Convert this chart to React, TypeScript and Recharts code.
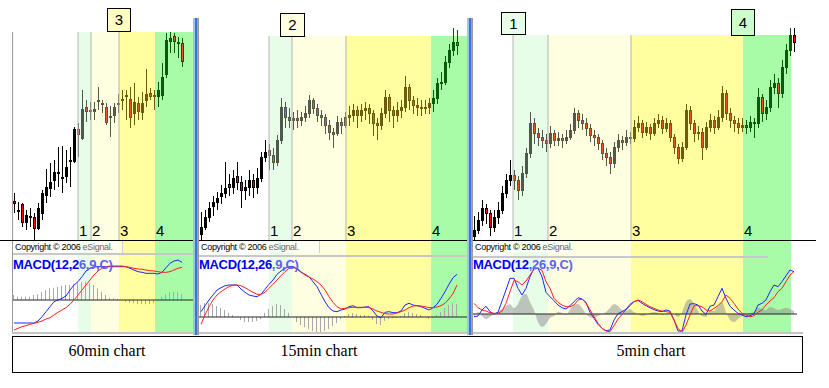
import React from 'react';
import { ComposedChart, Bar, Line, Area, XAxis, YAxis, ReferenceArea, ReferenceLine } from 'recharts';

type OHLC = [number, number, number, number];

// ---------- price candles [open, high, low, close] ----------
const candles60: OHLC[] = [
  [39,47,27,37],[29,38,20,30],[36,37,13,18],[18,30,10,25],[23,32,13,24],[23,27,0,12],[12,37,10,32],[27,50,20,47],
  [45,71,37,53],[52,77,43,58],[60,80,50,68],[67,93,53,68],[62,94,47,63],[64,90,57,73],[79,93,53,80],[79,113,77,111],
  [111,117,83,106],[102,150,100,131],[133,140,118,129],[129,138,120,130],[129,138,120,131],[139,153,130,140],[136,140,127,137],[133,137,115,118],
  [123,134,103,124],[125,137,117,133],[136,146,127,137],[140,150,130,141],[144,150,120,145],[141,153,112,123],[127,157,115,138],[137,143,120,129],
  [128,148,120,137],[140,171,133,146],[147,152,140,144],[144,150,130,145],[144,158,133,150],[145,177,140,163],[166,207,162,200],[199,208,187,202],
  [204,207,187,199],[198,203,182,197],[197,202,173,179],
];

const candles15: OHLC[] = [
  [6,28,0,13],[13,30,10,23],[23,38,18,32],[34,44,24,38],[38,48,30,42],[44,55,36,47],[47,78,42,52],[56,66,44,53],
  [53,70,46,62],[64,78,50,58],[58,64,32,50],[50,60,40,53],[53,70,44,60],[60,66,42,53],[53,72,46,62],[62,88,58,83],
  [83,100,78,88],[90,96,70,85],[85,92,70,78],[78,105,74,100],[100,142,96,133],[133,138,112,123],[123,132,112,120],[120,128,110,122],
  [122,130,112,120],[120,128,114,123],[123,134,118,127],[127,145,122,140],[140,142,126,132],[132,136,118,125],[125,130,114,123],[123,126,106,115],
  [115,120,100,108],[108,112,92,106],[107,124,104,118],[118,122,106,115],[115,128,112,123],[123,134,114,125],[125,136,118,130],[130,134,112,125],
  [125,136,118,130],[130,138,120,132],[132,136,116,127],[127,130,104,117],[117,122,100,115],[115,132,110,127],[127,150,122,143],[143,146,118,130],
  [130,134,112,125],[125,138,118,130],[130,140,122,133],[133,164,128,153],[153,156,130,140],[140,144,126,135],[135,142,124,133],[133,140,124,132],
  [132,140,126,133],[133,142,126,137],[137,150,128,142],[142,162,136,157],[157,168,150,158],[158,184,155,178],[178,196,172,190],[190,212,184,198],
  [198,210,185,195],
];

const candles5: OHLC[] = [
  [4,24,0,10],[10,28,6,20],[20,40,14,32],[32,36,16,27],[27,30,4,13],[13,30,8,23],[23,38,16,30],[30,54,26,47],
  [47,66,42,60],[60,80,54,65],[65,70,50,60],[60,64,40,50],[50,74,44,67],[67,92,62,87],[87,128,82,117],[117,122,96,107],
  [107,112,94,103],[103,110,92,100],[100,106,88,97],[97,114,92,107],[107,110,94,100],[100,108,94,102],[102,106,92,100],[100,110,96,103],
  [103,116,100,110],[110,132,106,127],[127,130,112,120],[120,126,110,117],[117,122,104,112],[112,116,98,105],[105,110,94,103],[103,106,90,97],
  [97,100,80,87],[87,92,74,83],[83,88,66,77],[77,98,72,93],[93,106,88,100],[100,104,90,98],[98,110,94,103],[103,108,96,102],
  [102,120,98,113],[113,124,108,117],[117,120,102,108],[108,118,104,113],[113,116,100,107],[107,122,104,117],[117,126,112,120],[120,124,106,112],
  [112,122,108,117],[117,120,98,103],[103,106,86,93],[93,96,76,82],[82,98,78,93],[93,136,90,130],[130,134,110,117],[117,120,98,107],
  [107,114,100,108],[108,112,80,93],[93,118,90,113],[113,126,108,120],[120,124,106,113],[113,130,110,123],[123,154,118,147],[147,150,120,127],
  [127,132,112,120],[120,124,108,117],[117,122,106,113],[113,122,108,115],[115,120,106,113],[113,124,108,118],[118,122,102,117],[117,152,112,143],
  [143,146,118,127],[127,140,120,133],[133,160,128,153],[153,166,146,157],[157,162,132,147],[147,180,142,173],[173,196,166,190],[190,212,184,205],
  [205,212,188,198],
];

// ---------- MACD(12,26,9) : macd line, signal line, histogram ----------
const macd60 = [-23,-23,-23,-23,-23,-23,-21,-16.7,-11.7,-6.7,-1.7,0,1.7,4,10,15,18.3,23.3,29,31.7,33.3,33.3,33.3,33.3,33.3,33.3,33.3,33.3,33.3,31.7,30,28.3,27.7,26.7,26.7,26.7,26,27.7,32.3,36.7,39,40,37.7];
const signal60 = [-30,-28.3,-26.7,-25.7,-24.3,-23.3,-22.3,-21,-19,-17.7,-15,-12.3,-10,-7.7,-4.3,0,5,10,15,20,25,29,31.7,33.3,34,34,34,34,33.3,32.7,31.7,31,30.7,30,29.3,29,28.3,27.7,27.7,28.3,30,31.7,32.7];
const hist60 = [5,3.3,3.3,3.3,3.3,5,5.7,8.3,10,11.7,12.3,13.3,14.3,15,15,15.7,16.7,17.7,18.3,16.7,15,11.7,8.3,5,2.3,1.7,1,0,-1.7,-2.7,-3.3,-4,-4.3,-4.3,-4,-3.3,-0.7,3.3,5.7,7.7,8.3,7.7,5.7];

const macd15 = [5.3,11.3,17,22,27,29.3,31.3,32,32,32,28,24.7,22,21,20.3,22.7,27.7,32.7,37,42.7,46,48.7,50.3,50.3,48,44.7,42.7,40.3,35.3,30.3,22.7,15.3,9.3,6,5.3,7,8,10.3,11.3,9.3,9.3,10,10.3,6,1,-0.7,4.7,5.3,4.3,4.3,6,12,13.7,12,11.3,10.3,8.7,7,9.3,12.7,18.7,25.3,32.7,39.3,42.7];
const signal15 = [-7.3,2,10.3,17,22,25.3,28,30.3,32,32,31.3,29.3,27,24.7,22.7,22.7,24.7,28.7,32.7,37,41.3,45.3,48.7,49.3,48.7,45.3,42,40,38,35.3,32,27,20.3,14.7,10.3,8,8.7,9.3,9.7,9.7,9.7,9.7,9.3,8,6,4.7,3.3,3,3,4,5.3,7,9.3,11,11.3,11,10.3,9.3,9.3,10,11.3,13.7,18,23.3,32];
const hist15 = [12,14,14,13,11,9,7,4,2,0,-3,-5,-5,-5,-4,-2,4,8,11,13,12,8,4,0,-5,-8,-10,-12,-14,-15,-15,-14,-12,-9,-6,-2,1,3,4,3,2,2,1,-3,-7,-8,-4,-2,-1,-1,1,4,5,4,3,2,0,-2,-1,2,5,9,12,14,13];

const macd5 = [-2.7,-2,4,7.7,2.3,0,1.7,13,24,35.7,35.7,25.7,19,25.7,37.3,45.7,45.7,37.3,21.7,17.3,13.3,9,6.3,5,8.3,12.3,16.3,15,11.7,1.7,-4.3,-10.3,-14.3,-16.7,-16,-6,0.3,2.3,4.7,9.7,12.3,13.7,10.7,8.3,6.3,4.3,3,2.3,4,3,-6,-17,-17,-1,10,10.3,9,3,-0.3,7.7,9,17.3,25.7,15.7,7.7,4,0.7,-1,-2.7,-1.7,0.3,9,10.7,14,22.3,29,27.3,32.3,38.3,44,42.3];
const signal5 = [10.7,6.3,4,3,1.3,0.7,0.7,3,10.7,22.3,33.7,32.3,29,33,39,45,45.7,43.7,32.3,25.7,15.7,11.7,9,7.3,7.3,9,14,15,10.7,4.3,-2.7,-9.3,-14.3,-17,-17.7,-11.7,-5,-0.3,4,8.3,12.3,14,12.3,9.7,7.3,5.7,4,3,2.3,1.7,-6,-14.3,-18.8,-11,-1,8.3,8.3,7.3,4,3,5.7,8.3,12.3,19,15.7,10.7,5,0.7,-1,-2.7,-1.7,1.7,4,9,13,16.3,22.3,25.7,32.3,39,42.3];
const hist5 = [-3,2,-2,-5,-3,0,2,5,8,10,6,10,18,20,12,4,-8,-13,-10,-4,-2,2,1,-1,4,9,10,6,0,-3,-4,-2,0,2,6,10,8,4,3,5,2,0,-2,-1,1,2,1,-1,0,1,0,-3,2,12,15,10,3,-2,-3,4,3,8,12,2,-6,-8,-5,-2,-1,1,2,6,5,4,7,6,4,5,6,5,3];

// ---------- phase zones (candle-index boundaries) and labels ----------
const zones60 = [16, 19.25, 26.25, 35.25, 44.75];
const zones15 = [17, 22.75, 36.25, 57.5, 66.5];
const zones5 = [9.75, 18.5, 39.25, 67.25, 79.25];
const zoneLabels = ['1', '2', '3', '4'];
const chartTitles = ['60min chart', '15min chart', '5min chart'];
const macdTitle = 'MACD(12,26,9,C)';
const copyrightText = 'Copyright \u00a9 2006 ';
const copyrightBrand = 'eSignal.';

// ---------- styles ----------
const zoneFills = ['#e8fde8', '#fefee0', '#ffffa0', '#a8fca8'];
const candleInk = ['#000000', '#4e594e', '#58584a', '#6b5d0e', '#0b5a0b', '#000000'];
const SANS = 'Arial, "Liberation Sans", sans-serif';
const SERIF = '"Times New Roman", "Liberation Serif", serif';

const PRICE_TOP = 18;
const PRICE_H = 222;
const MACD_TOP = 240;
const MACD_H = 93;

const panels = [
  { left: 12, width: 181, xDomain: [-0.5, 44.75], zoneTop: 208, macdDomain: [-33, 60], zeroEnd: 44.75,
    candles: candles60, zones: zones60, macd: macd60, signal: signal60, hist: hist60, areaHist: false,
    title: chartTitles[0], titleX: 107, split: 9, copyW: 107, copyLineTop: 253, copyLineW: 181, lineLeft: true },
  { left: 198, width: 269, xDomain: [-0.75, 66.5], zoneTop: 204, macdDomain: [-16, 77], zeroEnd: 66.5,
    candles: candles15, zones: zones15, macd: macd15, signal: signal15, hist: hist15, areaHist: false,
    title: chartTitles[1], titleX: 319, split: 10, copyW: 118, copyLineTop: 255, copyLineW: 269, lineLeft: true },
  { left: 472, width: 331, xDomain: [-0.5, 82.25], zoneTop: 205, macdDomain: [-19, 74], zeroEnd: 80.75,
    candles: candles5, zones: zones5, macd: macd5, signal: signal5, hist: hist5, areaHist: true,
    title: chartTitles[2], titleX: 651, split: 7, copyW: 0, copyLineTop: 256, copyLineW: 295, lineLeft: false },
];

const numberBoxes = [
  { label: '3', left: 107, top: 8, w: 24, h: 24, fill: '#ffffc0' },
  { label: '2', left: 280, top: 13, w: 25, h: 24, fill: '#ffffe0' },
  { label: '1', left: 501, top: 12, w: 25, h: 23, fill: '#e6ffe6' },
  { label: '4', left: 731, top: 9, w: 24, h: 27, fill: '#ccffcc' },
];

const zoneOf = (i: number, b: number[]) => {
  if (i < b[0]) return -1;
  for (let k = 0; k < 4; k++) if (i < b[k + 1]) return k;
  return 4;
};

const CandleShape = (props: any) => {
  const { x, y, width, height, payload } = props;
  if (!payload || height == null || isNaN(y)) return null;
  const { o, h, l, c, z } = payload;
  const ink = candleInk[z + 1];
  const cx = Math.round(x + width / 2) + 0.5;
  const span = h - l || 1;
  const toY = (v: number) => y + ((h - v) / span) * height;
  const top = toY(Math.max(o, c));
  const bot = toY(Math.min(o, c));
  const down = c < o;
  const red = z < 0 || z > 3 ? '#ff0000' : '#e4561c';
  return (
    <g>
      <line x1={cx} x2={cx} y1={y} y2={y + height} stroke={ink} strokeWidth={1} />
      <rect x={cx - 1} y={Math.round(top) + 0.5} width={2} height={Math.max(Math.round(bot - top), 1)}
        fill={down ? red : 'none'} stroke={ink} strokeWidth={1} />
    </g>
  );
};

function PriceChart({ p }: { p: any }) {
  const data = p.candles.map((c: OHLC, i: number) => ({
    i, range: [c[2], c[1]], o: c[0], h: c[1], l: c[2], c: c[3], z: zoneOf(i, p.zones),
  }));
  return (
    <div style={{ position: 'absolute', left: p.left, top: PRICE_TOP }}>
      <ComposedChart width={p.width} height={PRICE_H} data={data} margin={{ top: 0, right: 0, bottom: 0, left: 0 }}>
        <XAxis dataKey="i" type="number" domain={p.xDomain} hide allowDataOverflow />
        <YAxis type="number" domain={[0, PRICE_H]} hide allowDataOverflow />
        {[0, 1, 2, 3].map((k) => (
          <ReferenceArea key={'z' + k} x1={p.zones[k]} x2={p.zones[k + 1]} y1={0} y2={p.zoneTop}
            fill={zoneFills[k]} fillOpacity={1} stroke="none" ifOverflow="hidden" />
        ))}
        {[0, 1, 2].map((k) => (
          <ReferenceLine key={'g' + k} segment={[{ x: p.zones[k], y: 0 }, { x: p.zones[k], y: p.zoneTop }]}
            stroke="#b4b4b4" strokeWidth={1} />
        ))}
        {p.lineLeft && (
          <ReferenceLine segment={[{ x: p.xDomain[0] + 0.15, y: 0 }, { x: p.xDomain[0] + 0.15, y: p.zoneTop }]}
            stroke="#9a9a9a" strokeWidth={1} />
        )}
        {[0, 1, 2, 3].map((k) => (
          <ReferenceLine key={'l' + k} x={p.zones[k]} stroke="none"
            label={{ value: zoneLabels[k], position: 'insideBottomLeft', offset: 4, dx: -3, fill: '#000', fontSize: 15, fontFamily: SANS }} />
        ))}
        <Bar dataKey="range" barSize={3} shape={<CandleShape />} isAnimationActive={false} />
      </ComposedChart>
    </div>
  );
}

function MacdChart({ p }: { p: any }) {
  const data = p.macd.map((m: number, i: number) => ({ i, m, s: p.signal[i], h: p.hist[i] }));
  return (
    <div style={{ position: 'absolute', left: p.left, top: MACD_TOP }}>
      <ComposedChart width={p.width} height={MACD_H} data={data} margin={{ top: 0, right: 0, bottom: 0, left: 0 }}>
        <XAxis dataKey="i" type="number" domain={p.xDomain} hide allowDataOverflow />
        <YAxis type="number" domain={p.macdDomain} hide allowDataOverflow />
        {[0, 1, 2, 3].map((k) => (
          <ReferenceArea key={'z' + k} x1={p.zones[k]} x2={p.zones[k + 1]}
            fill={zoneFills[k]} fillOpacity={1} stroke="none" ifOverflow="hidden" />
        ))}
        {p.areaHist ? (
          <Area dataKey="h" type="monotone" baseValue={0} fill="#8c8c8c" fillOpacity={0.5} stroke="none" isAnimationActive={false} />
        ) : (
          <Bar dataKey="h" barSize={1} fill="#a8a8a8" isAnimationActive={false} />
        )}
        <ReferenceLine segment={[{ x: p.xDomain[0], y: 0 }, { x: p.zeroEnd, y: 0 }]} stroke="#222" strokeWidth={1} />
        <Line dataKey="m" type="linear" stroke="#2222ff" strokeWidth={1} dot={false} isAnimationActive={false} />
        <Line dataKey="s" type="linear" stroke="#ff2020" strokeWidth={1} dot={false} isAnimationActive={false} />
      </ComposedChart>
    </div>
  );
}

function Overlays({ p }: { p: any }) {
  return (
    <>
      {p.lineLeft && (
        <div style={{ position: 'absolute', left: p.left, top: MACD_TOP, width: 1, height: MACD_H + 1, background: '#9a9a9a' }} />
      )}
      <div style={{ position: 'absolute', left: p.left + 1, top: 241, height: 12, width: p.copyW || undefined,
        background: 'rgba(255,255,255,0.55)', borderRight: p.copyW ? '1px solid #cfcfcf' : 'none',
        font: '9px ' + SANS, letterSpacing: '-0.3px', lineHeight: '12px', color: '#000', paddingLeft: 2, whiteSpace: 'nowrap' }}>
        {copyrightText}<span style={{ color: '#666' }}>{copyrightBrand}</span>
      </div>
      <div style={{ position: 'absolute', left: p.left + 1, top: p.copyLineTop, width: p.copyLineW, height: 2, background: '#c8c8c8' }} />
      <div style={{ position: 'absolute', left: p.left + 1, top: 257, font: 'bold 13px ' + SANS, letterSpacing: '-0.3px',
        lineHeight: '16px', whiteSpace: 'nowrap' }}>
        <span style={{ color: '#0000f0' }}>{macdTitle.slice(0, p.split)}</span>
        <span style={{ color: '#5f5ff2' }}>{macdTitle.slice(p.split)}</span>
      </div>
      <div style={{ position: 'absolute', left: p.left, top: 332, width: p.width, height: 2, background: '#c4c4c4' }} />
    </>
  );
}

const Separator = ({ left }: { left: number }) => (
  <div style={{ position: 'absolute', left, top: 18, width: 6, height: 317,
    background: 'linear-gradient(90deg,#9cc2f6 0 33%,#3f72d6 33% 66%,#86a6dc 66% 83%,#9a9a9a 83%)' }} />
);

export default function App() {
  return (
    <div style={{ position: 'absolute', left: 0, top: 0, width: 829, height: 388, background: '#fff', overflow: 'hidden' }}>
      {panels.map((p, k) => <PriceChart key={'p' + k} p={p} />)}
      {panels.map((p, k) => <MacdChart key={'m' + k} p={p} />)}
      {panels.map((p, k) => <Overlays key={'o' + k} p={p} />)}
      <div style={{ position: 'absolute', left: 0, top: 240, width: 816, height: 1, background: '#000' }} />
      <Separator left={193} />
      <Separator left={467} />
      {numberBoxes.map((b) => (
        <div key={b.label} style={{ position: 'absolute', left: b.left, top: b.top, width: b.w - 2, height: b.h - 2,
          border: '1px solid #000', background: b.fill, font: '15px ' + SANS, lineHeight: (b.h - 2) + 'px', textAlign: 'center' }}>
          {b.label}
        </div>
      ))}
      <div style={{ position: 'absolute', left: 12, top: 336, width: 789, height: 35, border: '1px solid #000', background: '#fff' }} />
      {panels.map((p, k) => (
        <div key={'t' + k} style={{ position: 'absolute', left: p.titleX - 60, width: 120, top: 342, textAlign: 'center',
          font: '16px ' + SERIF, lineHeight: '18px', color: '#000' }}>
          {p.title}
        </div>
      ))}
    </div>
  );
}
